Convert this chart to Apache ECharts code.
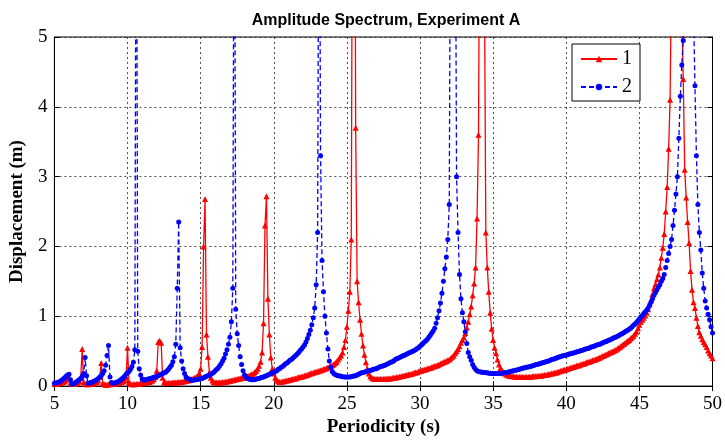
<!DOCTYPE html>
<html>
<head>
<meta charset="utf-8">
<script src="https://cdn.jsdelivr.net/npm/echarts@6/dist/echarts.min.js"></script>
<style>
html,body{margin:0;padding:0;background:#fff;}
#chart{width:725px;height:442px;}
</style>
</head>
<body>
<div id="chart"></div>
<script>
// Sampling grid: periods 5.0 .. 50.0 s, step 0.1 s (rows below = one second each)
const periodStart = 5.0;
const periodStep = 0.1;

// Series "1" (red, solid, triangles) displacement in m
const series1 = [
/* 5 */ 0.03,0.03,0.035,0.04,0.045,0.05,0.06,0.07,0.09,0.11,
/* 6 */ 0.12,0.05,0.03,0.03,0.035,0.04,0.05,0.07,0.12,0.53,
/* 7 */ 0.06,0.03,0.025,0.025,0.03,0.03,0.035,0.04,0.05,0.06,
/* 8 */ 0.08,0.13,0.33,0.04,0.025,0.02,0.02,0.025,0.025,0.03,
/* 9 */ 0.03,0.035,0.04,0.04,0.045,0.05,0.06,0.07,0.08,0.12,
/*10 */ 0.55,0.05,0.03,0.025,0.025,0.025,0.03,0.03,0.035,0.04,
/*11 */ 0.04,0.045,0.05,0.05,0.055,0.06,0.07,0.08,0.10,0.13,
/*12 */ 0.22,0.63,0.65,0.62,0.12,0.06,0.05,0.045,0.045,0.045,
/*13 */ 0.045,0.05,0.05,0.05,0.055,0.055,0.06,0.06,0.065,0.07,
/*14 */ 0.075,0.08,0.085,0.09,0.10,0.11,0.12,0.13,0.15,0.18,
/*15 */ 0.25,0.56,2.0,2.68,0.74,0.42,0.20,0.12,0.08,0.06,
/*16 */ 0.05,0.05,0.05,0.05,0.055,0.055,0.06,0.06,0.065,0.07,
/*17 */ 0.075,0.08,0.085,0.09,0.095,0.10,0.105,0.11,0.115,0.12,
/*18 */ 0.125,0.13,0.14,0.15,0.16,0.17,0.18,0.20,0.22,0.25,
/*19 */ 0.29,0.35,0.48,0.90,2.3,2.72,1.25,0.74,0.41,0.25,
/*20 */ 0.18,0.12,0.09,0.07,0.06,0.06,0.065,0.07,0.075,0.08,
/*21 */ 0.085,0.09,0.095,0.10,0.105,0.11,0.12,0.125,0.13,0.135,
/*22 */ 0.14,0.15,0.155,0.16,0.17,0.18,0.185,0.19,0.20,0.205,
/*23 */ 0.21,0.22,0.225,0.23,0.24,0.25,0.255,0.265,0.275,0.285,
/*24 */ 0.30,0.31,0.33,0.35,0.38,0.41,0.44,0.48,0.56,0.66,
/*25 */ 0.85,1.08,1.35,2.1,9,12,3.7,1.5,1.2,0.95,
/*26 */ 0.75,0.58,0.45,0.34,0.25,0.18,0.14,0.12,0.11,0.10,
/*27 */ 0.10,0.10,0.10,0.10,0.10,0.10,0.105,0.105,0.11,0.11,
/*28 */ 0.11,0.115,0.12,0.12,0.125,0.13,0.135,0.14,0.145,0.15,
/*29 */ 0.155,0.16,0.165,0.17,0.175,0.18,0.19,0.195,0.20,0.21,
/*30 */ 0.215,0.22,0.23,0.235,0.24,0.25,0.255,0.26,0.27,0.28,
/*31 */ 0.285,0.29,0.30,0.31,0.32,0.33,0.34,0.35,0.36,0.37,
/*32 */ 0.38,0.40,0.42,0.44,0.47,0.50,0.53,0.57,0.62,0.66,
/*33 */ 0.70,0.76,0.84,0.92,1.03,1.14,1.30,1.47,1.70,2.4,
/*34 */ 3.6,8,12,12,6,2.2,1.7,1.35,1.05,0.82,
/*35 */ 0.66,0.55,0.47,0.38,0.31,0.26,0.23,0.20,0.18,0.165,
/*36 */ 0.155,0.15,0.145,0.14,0.14,0.135,0.135,0.13,0.13,0.13,
/*37 */ 0.13,0.13,0.13,0.13,0.13,0.135,0.135,0.14,0.14,0.14,
/*38 */ 0.145,0.145,0.15,0.15,0.155,0.16,0.16,0.165,0.17,0.175,
/*39 */ 0.18,0.185,0.19,0.195,0.20,0.21,0.215,0.22,0.23,0.235,
/*40 */ 0.24,0.25,0.255,0.26,0.27,0.275,0.28,0.29,0.295,0.30,
/*41 */ 0.31,0.315,0.32,0.33,0.34,0.345,0.35,0.36,0.37,0.375,
/*42 */ 0.38,0.39,0.40,0.41,0.42,0.43,0.44,0.45,0.46,0.47,
/*43 */ 0.48,0.49,0.50,0.51,0.52,0.535,0.55,0.565,0.58,0.60,
/*44 */ 0.61,0.63,0.645,0.66,0.68,0.70,0.72,0.75,0.78,0.83,
/*45 */ 0.88,0.92,0.95,0.98,1.01,1.05,1.10,1.17,1.24,1.32,
/*46 */ 1.40,1.46,1.53,1.60,1.70,1.84,1.98,2.18,2.5,2.85,
/*47 */ 3.4,4.1,6,9,12,12,12,10,7,5.3,
/*48 */ 4.4,3.1,2.7,2.35,2.05,1.65,1.38,1.2,1.12,0.98,
/*49 */ 0.86,0.77,0.72,0.67,0.63,0.60,0.56,0.51,0.47,0.44,
/*50 */ 0.40
];

// Series "2" (blue, dashed, circles) displacement in m
const series2 = [
/* 5 */ 0.04,0.045,0.05,0.06,0.07,0.085,0.10,0.12,0.14,0.16,
/* 6 */ 0.17,0.09,0.03,0.035,0.045,0.06,0.075,0.09,0.11,0.14,
/* 7 */ 0.18,0.41,0.15,0.04,0.045,0.05,0.06,0.07,0.08,0.09,
/* 8 */ 0.11,0.13,0.15,0.18,0.22,0.30,0.44,0.58,0.13,0.05,
/* 9 */ 0.04,0.045,0.05,0.06,0.07,0.085,0.10,0.12,0.14,0.17,
/*10 */ 0.19,0.21,0.24,0.28,0.34,0.52,9,0.5,0.25,0.16,
/*11 */ 0.10,0.085,0.09,0.095,0.10,0.105,0.11,0.12,0.125,0.13,
/*12 */ 0.14,0.15,0.16,0.17,0.18,0.19,0.20,0.22,0.24,0.27,
/*13 */ 0.30,0.35,0.42,0.60,1.40,2.35,0.55,0.36,0.25,0.18,
/*14 */ 0.13,0.11,0.10,0.09,0.085,0.085,0.09,0.09,0.095,0.10,
/*15 */ 0.105,0.11,0.12,0.13,0.14,0.15,0.16,0.17,0.185,0.20,
/*16 */ 0.22,0.24,0.26,0.29,0.32,0.36,0.40,0.46,0.52,0.60,
/*17 */ 0.70,0.92,1.40,9,1.10,0.75,0.58,0.42,0.31,0.22,
/*18 */ 0.16,0.13,0.11,0.10,0.095,0.09,0.09,0.095,0.10,0.105,
/*19 */ 0.11,0.12,0.125,0.13,0.14,0.15,0.16,0.17,0.18,0.19,
/*20 */ 0.20,0.21,0.22,0.24,0.25,0.27,0.28,0.30,0.32,0.33,
/*21 */ 0.35,0.37,0.38,0.40,0.42,0.44,0.46,0.48,0.51,0.53,
/*22 */ 0.56,0.59,0.63,0.68,0.74,0.80,0.88,0.98,1.12,1.45,
/*23 */ 2.2,9,3.3,1.8,1.35,1.0,0.76,0.53,0.36,0.27,
/*24 */ 0.21,0.18,0.165,0.155,0.15,0.145,0.14,0.135,0.13,0.13,
/*25 */ 0.13,0.13,0.13,0.135,0.14,0.145,0.15,0.16,0.17,0.18,
/*26 */ 0.19,0.195,0.20,0.21,0.215,0.22,0.225,0.23,0.24,0.245,
/*27 */ 0.25,0.26,0.27,0.28,0.285,0.29,0.30,0.31,0.32,0.33,
/*28 */ 0.34,0.35,0.36,0.38,0.39,0.40,0.41,0.42,0.43,0.44,
/*29 */ 0.45,0.46,0.47,0.48,0.49,0.50,0.51,0.52,0.54,0.55,
/*30 */ 0.57,0.59,0.61,0.63,0.65,0.67,0.70,0.73,0.76,0.79,
/*31 */ 0.83,0.90,0.98,1.08,1.19,1.33,1.50,1.68,1.85,2.1,
/*32 */ 2.6,8,12,12,8,3.0,2.2,1.6,1.25,1.05,
/*33 */ 0.92,0.78,0.61,0.48,0.42,0.37,0.31,0.27,0.24,0.22,
/*34 */ 0.21,0.205,0.20,0.20,0.195,0.19,0.19,0.185,0.185,0.18,
/*35 */ 0.18,0.18,0.18,0.18,0.18,0.18,0.185,0.19,0.19,0.195,
/*36 */ 0.20,0.205,0.21,0.215,0.22,0.225,0.23,0.235,0.24,0.25,
/*37 */ 0.255,0.26,0.265,0.27,0.275,0.28,0.285,0.29,0.30,0.305,
/*38 */ 0.31,0.315,0.32,0.33,0.335,0.34,0.35,0.355,0.36,0.37,
/*39 */ 0.38,0.385,0.39,0.40,0.41,0.415,0.42,0.43,0.435,0.44,
/*40 */ 0.445,0.45,0.46,0.465,0.47,0.475,0.48,0.49,0.495,0.50,
/*41 */ 0.51,0.515,0.52,0.53,0.535,0.54,0.55,0.56,0.565,0.57,
/*42 */ 0.58,0.59,0.595,0.60,0.61,0.62,0.63,0.635,0.645,0.655,
/*43 */ 0.665,0.675,0.685,0.695,0.705,0.715,0.725,0.74,0.75,0.76,
/*44 */ 0.775,0.79,0.80,0.815,0.83,0.85,0.87,0.89,0.91,0.935,
/*45 */ 0.96,0.99,1.01,1.04,1.06,1.09,1.12,1.16,1.20,1.25,
/*46 */ 1.30,1.34,1.38,1.42,1.45,1.50,1.54,1.60,1.70,1.80,
/*47 */ 1.90,2.0,2.10,2.30,2.52,2.75,3.0,3.55,4.15,4.6,
/*48 */ 4.95,6.5,10,12,12,10,7.5,5.4,4.3,3.3,
/*49 */ 2.6,2.2,1.95,1.62,1.40,1.22,1.12,1.03,0.95,0.85,
/*50 */ 0.76
];

const seriesNames = ['1', '2'];
const xTicks = [5, 10, 15, 20, 25, 30, 35, 40, 45, 50];
const yTicks = [0, 1, 2, 3, 4, 5];

const periods = series1.map((_, i) => +(periodStart + i * periodStep).toFixed(1));
const pairs = arr => arr.map((v, i) => [periods[i], v]);

const serif = 'Liberation Serif';
const chart = echarts.init(document.getElementById('chart'), null, {renderer: 'canvas'});

const gridLine = {show: true, lineStyle: {color: '#222', type: [2, 3], width: 0.8}};

chart.setOption({
  animation: false,
  backgroundColor: '#fff',
  title: {
    text: 'Amplitude Spectrum, Experiment A',
    left: 381, top: 8, textAlign: 'center',
    textStyle: {fontFamily: 'Liberation Sans', fontWeight: 'bold', fontSize: 16, color: '#000'}
  },
  legend: {
    orient: 'vertical',
    left: 572, top: 44,
    data: seriesNames,
    borderColor: '#000', borderWidth: 1, backgroundColor: '#fff',
    padding: [5, 8, 4, 8],
    itemWidth: 36, itemHeight: 8, itemGap: 8,
    textStyle: {fontFamily: serif, fontSize: 20, color: '#000'}
  },
  grid: {left: 49, top: 37, width: 664, height: 354, show: true, borderColor: '#000', borderWidth: 1, backgroundColor: 'transparent'},
  xAxis: [{
    type: 'value', min: xTicks[0], max: xTicks[xTicks.length - 1], interval: 5,
    name: 'Periodicity (s)', nameLocation: 'middle', nameGap: 31,
    nameTextStyle: {fontFamily: serif, fontWeight: 'bold', fontSize: 19, color: '#000'},
    axisLine: {lineStyle: {color: '#000', width: 1}},
    axisTick: {inside: true, length: 5, lineStyle: {color: '#000'}},
    axisLabel: {fontFamily: serif, fontSize: 19, color: '#000', margin: 8},
    splitLine: gridLine
  }, {
    type: 'value', position: 'top', min: 5, max: 50, interval: 5,
    axisLine: {lineStyle: {color: '#000'}},
    axisTick: {inside: true, length: 5, lineStyle: {color: '#000'}},
    axisLabel: {show: false}, splitLine: {show: false}
  }],
  yAxis: [{
    type: 'value', min: yTicks[0], max: yTicks[yTicks.length - 1], interval: 1,
    name: 'Displacement (m)', nameLocation: 'middle', nameGap: 24,
    nameTextStyle: {fontFamily: serif, fontWeight: 'bold', fontSize: 19, color: '#000'},
    axisLine: {show: true, lineStyle: {color: '#000', width: 1}},
    axisTick: {show: true, inside: true, length: 5, lineStyle: {color: '#000'}},
    axisLabel: {fontFamily: serif, fontSize: 19, color: '#000', margin: 7},
    splitLine: gridLine
  }, {
    type: 'value', position: 'right', min: 0, max: 5, interval: 1,
    axisLine: {show: true, lineStyle: {color: '#000'}},
    axisTick: {show: true, inside: true, length: 5, lineStyle: {color: '#000'}},
    axisLabel: {show: false}, splitLine: {show: false}
  }],
  series: [{
    name: seriesNames[0], type: 'line', data: pairs(series1),
    xAxisIndex: 0, yAxisIndex: 0,
    symbol: 'triangle', symbolSize: 6, showSymbol: true, showAllSymbol: true,
    clip: true,
    lineStyle: {color: '#ff0000', width: 1.3, type: 'solid'},
    itemStyle: {color: '#ff0000'}
  }, {
    name: seriesNames[1], type: 'line', data: pairs(series2),
    xAxisIndex: 0, yAxisIndex: 0,
    symbol: 'circle', symbolSize: 5, showSymbol: true, showAllSymbol: true,
    clip: true,
    lineStyle: {color: '#0000ff', width: 1.3, type: [5, 3]},
    itemStyle: {color: '#0000ff'}
  }]
});
</script>
</body>
</html>
